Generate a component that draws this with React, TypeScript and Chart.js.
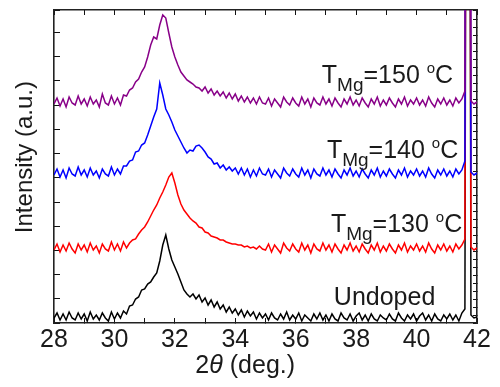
import React, { useEffect, useRef } from 'react';
import { Chart, registerables } from 'chart.js';

Chart.register(...registerables);

// 2θ sampling grid (deg.), 28.0 … 42.0 in 0.1° steps
const TWO_THETA: number[] = Array.from({ length: 141 }, (_, i) => Math.round((28 + i * 0.1) * 10) / 10);

// Offset intensities (a.u.)
const UNDOPED = [
  5, 10, 3, 9, 3, 11, 5, 3, 10, 4,
  9, 2, 11, 4, 8, 3, 10, 5, 2, 11,
  4, 10, 5, 12, 9, 17, 18, 24, 26, 33,
  34, 39, 41, 46, 50, 62, 78, 88, 74, 63,
  56, 49, 41, 33, 29, 26, 29, 24, 28, 21,
  25, 18, 23, 16, 21, 14, 18, 11, 16, 10,
  14, 8, 13, 6, 12, 7, 11, 4, 10, 5,
  9, 3, 10, 5, 3, 9, 4, 11, 3, 8,
  4, 10, 2, 8, 5, 2, 9, 4, 10, 3,
  8, 2, 9, 4, 2, 10, 5, 3, 9, 2,
  7, 10, 3, 8, 2, 9, 4, 2, 8, 5,
  3, 9, 4, 2, 10, 5, 2, 8, 4, 9,
  2, 7, 10, 3, 8, 2, 9, 4, 2, 8,
  4, 9, 3, 8, 2, 10, 14, 1500, 8, 5,
  6,
];

const T130 = [
  73, 79, 71, 78, 72, 80, 74, 70, 79, 73,
  78, 71, 80, 73, 77, 70, 79, 74, 72, 81,
  73, 79, 72, 81, 75, 80, 83, 84, 89, 93,
  96, 101, 107, 113, 118, 125, 131, 138, 146, 150,
  140, 128, 119, 113, 109, 105, 102, 100, 96, 95,
  91, 90, 87, 86, 85, 83, 83, 81, 80, 79,
  79, 78, 78, 76, 77, 75, 76, 74, 77, 74,
  73, 79, 71, 78, 74, 70, 80, 75, 72, 79,
  74, 71, 80, 73, 78, 70, 79, 74, 72, 80,
  73, 78, 71, 79, 74, 70, 78, 73, 80, 72,
  77, 71, 79, 74, 70, 78, 73, 80, 71, 77,
  72, 79, 74, 70, 78, 73, 80, 71, 77, 73,
  79, 72, 77, 71, 80, 74, 70, 78, 73, 79,
  72, 77, 71, 79, 74, 78, 84, 1500, 76, 73,
  75,
];

const T140 = [
  148, 154, 146, 153, 145, 155, 149, 147, 156, 148,
  153, 146, 155, 148, 152, 145, 154, 149, 147, 156,
  148, 154, 149, 157, 157, 162, 163, 171, 172, 178,
  180, 188, 197, 206, 214, 240, 228, 214, 208, 201,
  193, 187, 181, 175, 170, 173, 172, 177, 178, 175,
  171, 166, 164, 159, 160, 155, 158, 153, 156, 152,
  155, 149, 155, 148, 154, 146, 153, 147, 155, 149,
  148, 154, 146, 153, 149, 145, 155, 150, 147, 154,
  149, 146, 155, 148, 153, 145, 154, 149, 147, 155,
  148, 153, 146, 154, 149, 145, 153, 148, 155, 147,
  152, 146, 154, 149, 145, 153, 148, 155, 146, 152,
  147, 154, 149, 145, 153, 148, 155, 146, 152, 148,
  154, 147, 152, 146, 155, 149, 145, 153, 148, 154,
  147, 152, 146, 154, 149, 153, 162, 1500, 151, 148,
  150,
];

const T150 = [
  219, 225, 217, 224, 216, 226, 220, 218, 227, 219,
  224, 217, 226, 219, 223, 216, 229, 220, 218, 227,
  219, 225, 218, 228, 227, 233, 235, 241, 244, 251,
  256, 266, 278, 286, 284, 298, 308, 305, 290, 276,
  266, 258, 251, 247, 243, 241, 239, 236, 235, 232,
  236, 230, 234, 228, 232, 227, 231, 225, 230, 224,
  229, 222, 227, 221, 226, 220, 225, 219, 226, 220,
  219, 225, 217, 224, 220, 216, 226, 221, 218, 225,
  220, 217, 226, 219, 224, 216, 225, 220, 218, 226,
  219, 224, 217, 225, 220, 216, 224, 219, 226, 218,
  223, 217, 225, 220, 216, 224, 219, 226, 217, 223,
  218, 225, 220, 216, 224, 219, 226, 217, 223, 219,
  225, 218, 223, 217, 226, 220, 216, 224, 219, 225,
  218, 223, 217, 225, 220, 224, 232, 1500, 222, 219,
  221,
];

const SERIES = [T150, T140, T130, UNDOPED];
const SERIES_NAMES = ['TMg=150 °C', 'TMg=140 °C', 'TMg=130 °C', 'Undoped'];
const SERIES_COLORS = ['#880088', '#0000ff', '#ff0000', '#000000'];

// Curve labels: text, anchor (right edge in 2θ, baseline in a.u.)
const LABEL_TEMPS = ['150', '140', '130', ''];
const LABEL_X = [41.21, 41.38, 41.51, 40.62];
const LABEL_Y = [240, 165, 91, 18];

const X_MIN = 28;
const X_MAX = 42;
const Y_MIN = 0;
const Y_MAX = 313;

const FONT = '"Liberation Sans", Arial, sans-serif';
const TEXT_COLOR = '#1a1a1a';

const labelPlugin = {
  id: 'xrdLabels',
  afterDraw(chart: any) {
    const ctx = chart.ctx;
    const xs = chart.scales.x;
    const ys = chart.scales.y;
    ctx.save();
    ctx.fillStyle = TEXT_COLOR;
    ctx.textBaseline = 'alphabetic';
    ctx.textAlign = 'left';
    for (let i = 0; i < LABEL_X.length; i++) {
      const right = xs.getPixelForValue(LABEL_X[i]);
      const base = ys.getPixelForValue(LABEL_Y[i]);
      const segs = LABEL_TEMPS[i]
        ? [
            { t: 'T', s: 25, dy: 0 },
            { t: 'Mg', s: 19, dy: 8 },
            { t: '=' + LABEL_TEMPS[i] + ' ', s: 25, dy: 0 },
            { t: 'o', s: 15, dy: -10 },
            { t: 'C', s: 25, dy: 0 },
          ]
        : [{ t: SERIES_NAMES[i], s: 25, dy: 0 }];
      let total = 0;
      const widths = segs.map((sg) => {
        ctx.font = `${sg.s}px ${FONT}`;
        const w = ctx.measureText(sg.t).width;
        total += w;
        return w;
      });
      let x = right - total;
      segs.forEach((sg, k) => {
        ctx.font = `${sg.s}px ${FONT}`;
        ctx.fillText(sg.t, x, base + sg.dy);
        x += widths[k];
      });
    }

    // x-axis title: 2θ (deg.)
    const area = chart.chartArea;
    const xt = [
      { t: '2', f: `25px ${FONT}` },
      { t: 'θ', f: `italic 25px ${FONT}` },
      { t: ' (deg.)', f: `25px ${FONT}` },
    ];
    let tw = 0;
    const xw = xt.map((sg) => {
      ctx.font = sg.f;
      const w = ctx.measureText(sg.t).width;
      tw += w;
      return w;
    });
    let cx = area.left + area.width * 0.452 - tw / 2;
    const by = area.bottom + 50;
    xt.forEach((sg, k) => {
      ctx.font = sg.f;
      ctx.fillText(sg.t, cx, by);
      cx += xw[k];
    });

    // y-axis title
    ctx.save();
    ctx.translate(25, area.top + area.height * 0.47);
    ctx.rotate(-Math.PI / 2);
    ctx.textAlign = 'center';
    ctx.textBaseline = 'middle';
    ctx.font = `24px ${FONT}`;
    ctx.fillText('Intensity (a.u.)', 0, 0);
    ctx.restore();

    ctx.restore();
  },
};

export default function App() {
  const canvasRef = useRef<HTMLCanvasElement | null>(null);

  useEffect(() => {
    const canvas = canvasRef.current;
    if (!canvas) return;
    const datasets = SERIES.map((vals, i) => ({
      label: SERIES_NAMES[i],
      data: vals.map((v, k) => ({ x: TWO_THETA[k], y: v })),
      borderColor: SERIES_COLORS[i],
      backgroundColor: SERIES_COLORS[i],
      borderWidth: 1.5,
      pointRadius: 0,
      tension: 0,
      fill: false,
    }));

    const tickGrid = (len: number) => ({
      display: true,
      drawOnChartArea: false,
      drawTicks: true,
      tickLength: len,
      tickColor: '#111',
      tickWidth: 1,
    });
    const border = { display: true, color: '#222', width: 1.6 };

    const chart = new Chart(canvas, {
      type: 'line',
      data: { datasets },
      options: {
        animation: false,
        responsive: false,
        devicePixelRatio: 1,
        layout: { padding: 0 },
        plugins: { legend: { display: false }, tooltip: { enabled: false }, title: { display: false } },
        scales: {
          x: {
            type: 'linear',
            position: 'bottom',
            min: X_MIN,
            max: X_MAX,
            grid: tickGrid(-5),
            border,
            ticks: {
              stepSize: 1,
              autoSkip: false,
              maxRotation: 0,
              padding: 7,
              color: TEXT_COLOR,
              font: { family: FONT, size: 25 },
              callback: (v: any) => (Number(v) % 2 === 0 ? String(v) : ''),
            },
            afterFit: (s: any) => {
              s.height = 64;
            },
          },
          x2: {
            type: 'linear',
            position: 'top',
            min: X_MIN,
            max: X_MAX,
            grid: tickGrid(-5),
            border,
            ticks: { display: false, stepSize: 1 },
            afterFit: (s: any) => {
              s.height = 10;
            },
          },
          y: {
            type: 'linear',
            position: 'left',
            min: Y_MIN,
            max: Y_MAX,
            grid: tickGrid(-6),
            border,
            ticks: { display: false, stepSize: 24.2 },
            afterFit: (s: any) => {
              s.width = 54;
            },
          },
          y2: {
            type: 'linear',
            position: 'right',
            min: Y_MIN,
            max: Y_MAX,
            grid: tickGrid(-4),
            border,
            ticks: { display: false, stepSize: 8 },
            afterFit: (s: any) => {
              s.width = 23;
            },
          },
        },
      },
      plugins: [labelPlugin],
    } as any);

    return () => chart.destroy();
  }, []);

  return (
    <div style={{ position: 'absolute', left: 0, top: 0, width: 500, height: 387, background: '#fff' }}>
      <canvas ref={canvasRef} width={500} height={387} />
    </div>
  );
}
